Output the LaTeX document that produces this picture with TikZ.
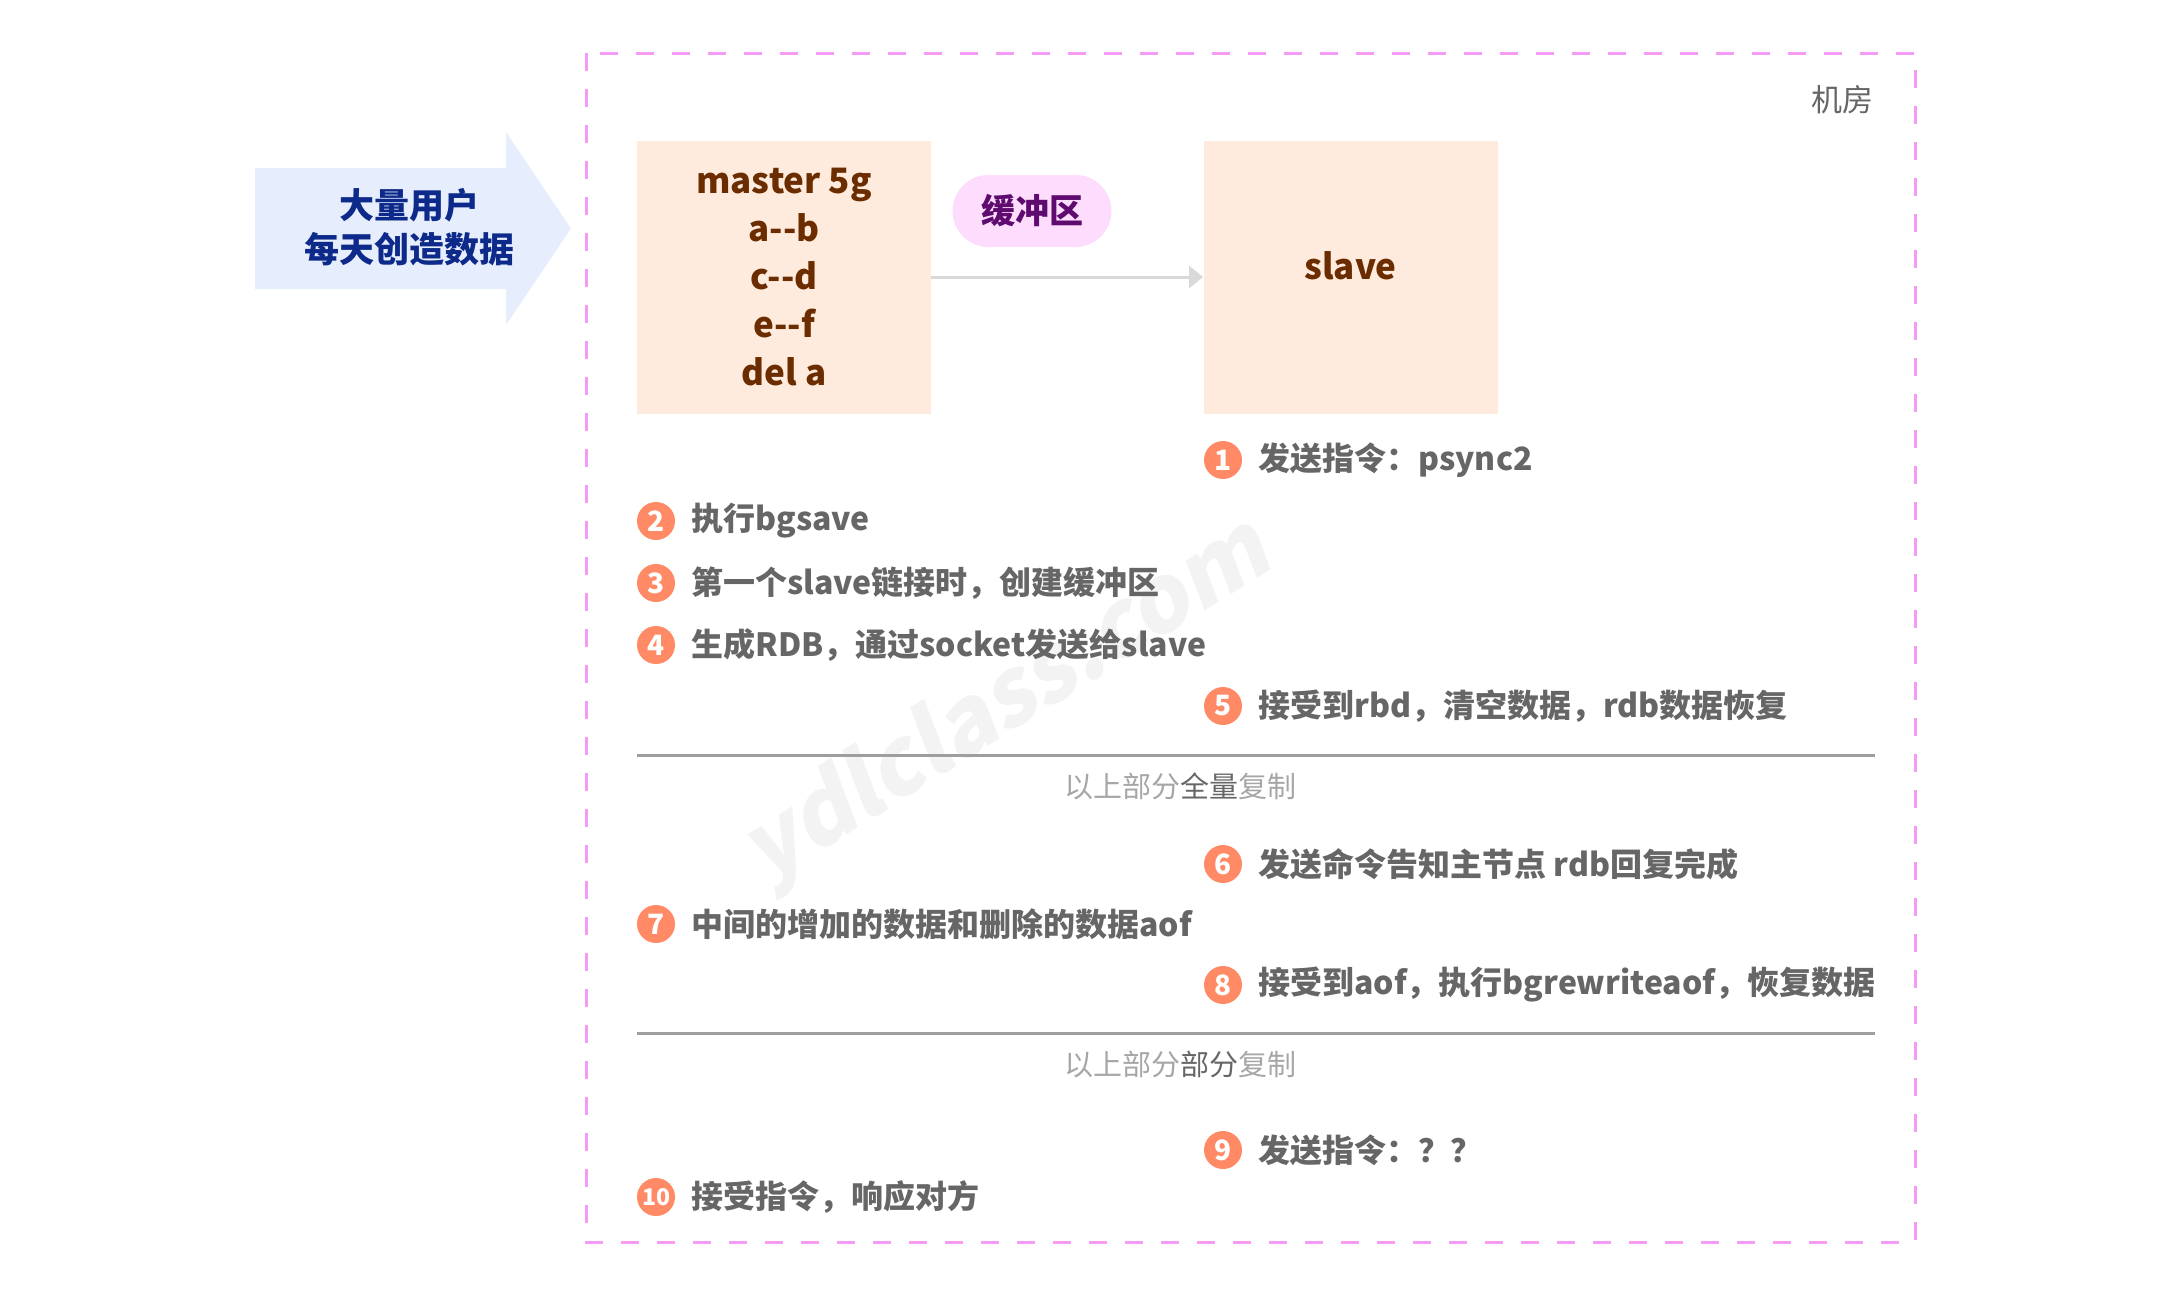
\documentclass[tikz,border=0pt]{standalone}
\usepackage{fontspec}
\setmainfont{Noto Sans CJK SC}
\newfontfamily\wmfont{Noto Sans CJK SC}[FakeSlant=0.2]
\usetikzlibrary{arrows.meta}
\definecolor{roompink}{HTML}{F59AF5}
\definecolor{peach}{HTML}{FFEBDD}
\definecolor{brownt}{HTML}{6B2D00}
\definecolor{pillbg}{HTML}{FDDCFD}
\definecolor{pilltx}{HTML}{5E0A6E}
\definecolor{arrowbg}{HTML}{E6EDFC}
\definecolor{arrowtx}{HTML}{0D2A8A}
\definecolor{badgec}{HTML}{FF8A65}
\definecolor{steptx}{HTML}{666666}
\definecolor{divline}{HTML}{9E9E9E}
\definecolor{captlight}{HTML}{A6A6A6}
\definecolor{captdark}{HTML}{666666}
\definecolor{conn}{HTML}{D9D9D9}
\definecolor{wmark}{HTML}{F3F3F3}
\begin{document}
\begin{tikzpicture}[x=0.5pt,y=-0.5pt,
  serverbox/.style={fill=peach,draw=none,minimum width=147pt,minimum height=136.5pt,
    text=brownt,font=\fontsize{17.5}{24}\selectfont\bfseries,align=center,inner sep=0pt},
  badge/.style={circle,fill=badgec,minimum size=19pt,inner sep=0pt,text=white,
    font=\fontsize{14}{14}\selectfont\bfseries},
  steptext/.style={anchor=west,inner sep=0pt,text=steptx,font=\fontsize{16}{20}\selectfont\bfseries},
  caption/.style={inner sep=0pt,text=captlight,font=\fontsize{14.5}{17}\selectfont},
  divider/.style={draw=divline,line width=1.5pt},
]
\useasboundingbox (0,0) rectangle (2172,1290);
% watermark
\node[rotate=32,text=wmark,font=\fontsize{46}{46}\selectfont\wmfont\bfseries] (wm) at (1007,703) {ydlclass.com};
% room
\draw[roompink,line width=1.5pt,dash pattern=on 9pt off 9pt] (586,53) rectangle (1915,1242);
\node[text=steptx,font=\fontsize{15.5}{18}\selectfont,inner sep=0pt] (room) at (1842,100) {机房};
% big arrow
\fill[arrowbg] (255,168) -- (506,168) -- (506,132) -- (571,228.5) -- (506,325) -- (506,289) -- (255,289) -- cycle;
\node[text=arrowtx,font=\fontsize{17.5}{22}\selectfont\bfseries,align=center] (users) at (409,227) {大量用户\\每天创造数据};
% servers
\node[serverbox] (master) at (784,277) {master 5g\\a-{}-b\\c-{}-d\\e-{}-f\\del a};
\node[serverbox] (slave) at (1350.5,277) {};
\node[text=brownt,font=\fontsize{17.5}{24}\selectfont\bfseries,inner sep=0pt] (slavetxt) at (1350.5,266) {slave};
\draw[conn,line width=1.5pt,-{Triangle[length=7pt,width=11pt]}] (master) -- (slave);
\node[fill=pillbg,rounded corners=18pt,minimum width=79.5pt,minimum height=36pt,inner sep=0pt,
  text=pilltx,font=\fontsize{17}{20}\selectfont\bfseries] (buffer) at (1032,211) {缓冲区};
% steps
\node[badge] (b1) at (1223,460) {1};
\node[steptext] (t1) at (1258,460) {发送指令：psync2};
\node[badge] (b2) at (656,521) {2};
\node[steptext] (t2) at (691,521) {执行bgsave};
\node[badge] (b3) at (656,583) {3};
\node[steptext] (t3) at (691,583) {第一个slave链接时，创建缓冲区};
\node[badge] (b4) at (656,645) {4};
\node[steptext] (t4) at (691,645) {生成RDB，通过socket发送给slave};
\node[badge] (b5) at (1223,706) {5};
\node[steptext] (t5) at (1258,706) {接受到rbd，清空数据，rdb数据恢复};
\draw[divider] (637,755) coordinate (d1a) -- (1875,755) coordinate (d1b);
\node[caption] (c1) at (1180,786) {以上部分\textcolor{captdark}{全量}复制};
\node[badge] (b6) at (1223,864) {6};
\node[steptext] (t6) at (1258,864) {发送命令告知主节点 rdb回复完成};
\node[badge] (b7) at (656,924) {7};
\node[steptext] (t7) at (691,924) {中间的增加的数据和删除的数据aof};
\node[badge] (b8) at (1223,985) {8};
\node[steptext] (t8) at (1258,985) {接受到aof，执行bgrewriteaof，恢复数据};
\draw[divider] (637,1033) coordinate (d2a) -- (1875,1033) coordinate (d2b);
\node[caption] (c2) at (1180,1064) {以上部分\textcolor{captdark}{部分}复制};
\node[badge] (b9) at (1223,1150) {9};
\node[steptext] (t9) at (1258,1150) {发送指令：？？};
\node[badge,font=\fontsize{11.5}{11.5}\selectfont\bfseries] (b10) at (656,1197) {10};
\node[steptext] (t10) at (691,1197) {接受指令，响应对方};
\end{tikzpicture}
\end{document}
